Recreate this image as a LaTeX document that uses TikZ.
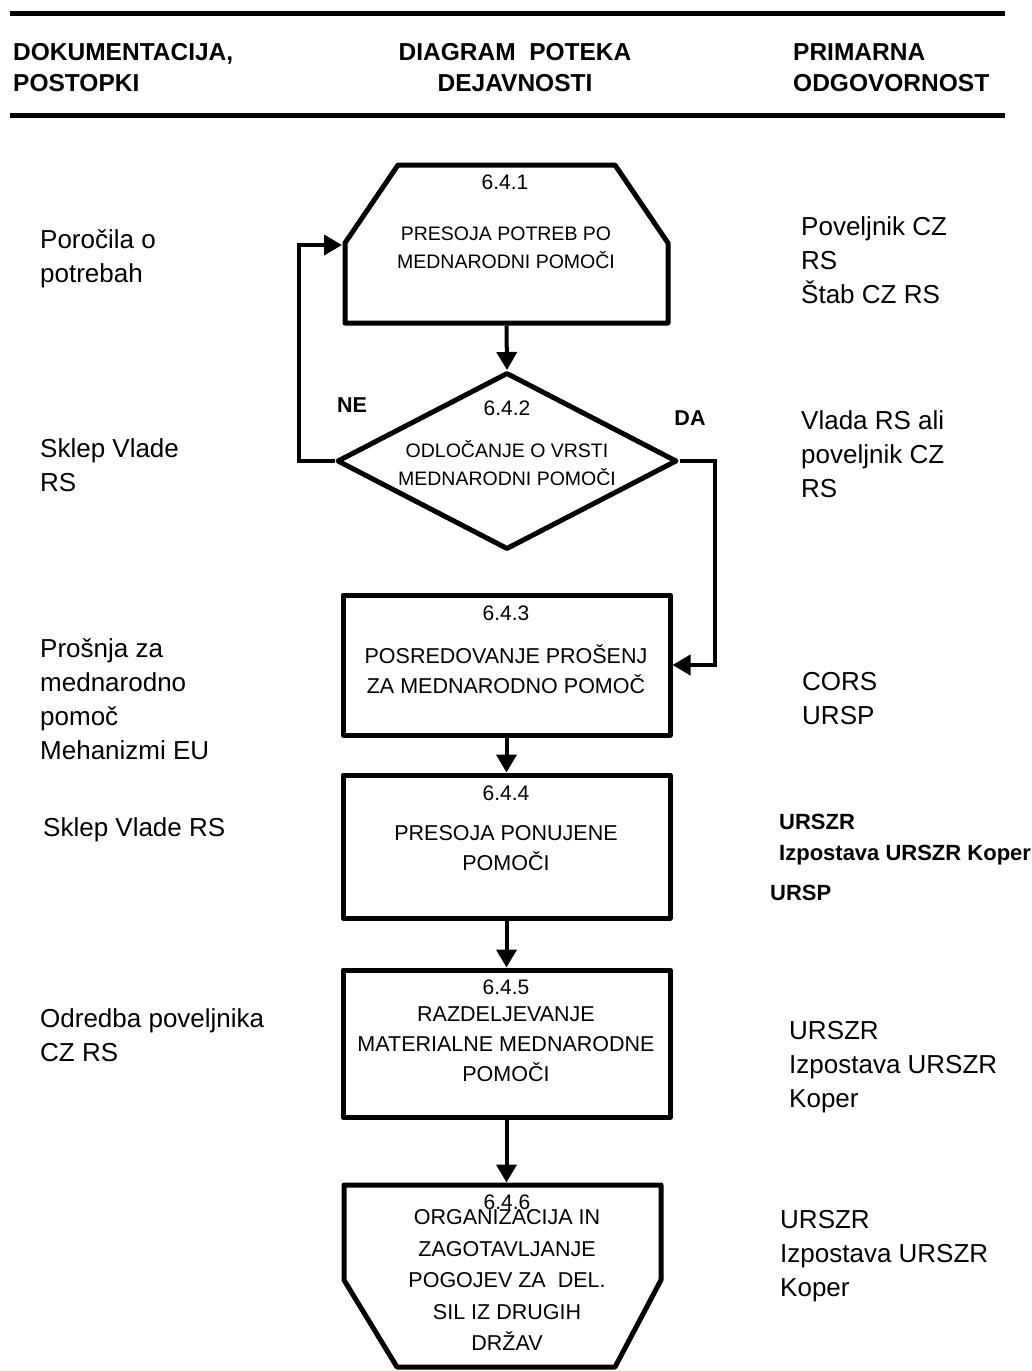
\documentclass[tikz,border=0pt]{standalone}
\usepackage{fontspec}
\setmainfont{Liberation Sans}
\usetikzlibrary{shapes.geometric, arrows.meta}
\tikzstyle{process} = [rectangle, minimum width=327pt, line width=5pt, line join=round, draw=black, inner sep=0pt]
\tikzstyle{decision} = [diamond, minimum width=340pt, minimum height=177pt, line width=5pt, line join=round, draw=black, inner sep=0pt]
\tikzstyle{outline} = [line width=5pt, line join=round, draw=black]
\tikzstyle{rule} = [line width=5pt]
\tikzstyle{arrow} = [line width=4pt, -{Triangle[length=18pt, width=20pt]}]
\tikzstyle{head} = [anchor=north west, align=left, inner sep=0pt, font=\fontsize{24.5}{31}\selectfont\bfseries]
\tikzstyle{doc} = [anchor=north west, align=left, inner sep=0pt, font=\fontsize{26}{34}\selectfont]
\tikzstyle{respb} = [anchor=north west, align=left, inner sep=0pt, font=\fontsize{22}{31}\selectfont\bfseries]
\tikzstyle{num} = [inner sep=0pt, font=\fontsize{21}{25}\selectfont]
\tikzstyle{big} = [align=center, inner sep=0pt, font=\fontsize{21.5}{30}\selectfont]
\tikzstyle{small} = [align=center, inner sep=0pt, font=\fontsize{19.5}{28}\selectfont]
\tikzstyle{yesno} = [inner sep=0pt, font=\fontsize{21.5}{25}\selectfont\bfseries]

\begin{document}
\begin{tikzpicture}[x=1pt, y=-1pt]
	\useasboundingbox (0,0) rectangle (1032,1371);
	% glava tabele
	\draw [rule] (10,13) -- (1005,13);
	\draw [rule] (10,115) -- (1005,115);
	\node (H1) [head] at (13,43) {DOKUMENTACIJA,\\POSTOPKI};
	\node (H2) [head, anchor=north, align=center] at (515,43) {DIAGRAM~ POTEKA\\DEJAVNOSTI};
	\node (H3) [head] at (793,43) {PRIMARNA\\ODGOVORNOST};
	% diagram poteka
	\draw [outline] (345,323) -- (345,243) -- (398,165) -- (615,165) -- (668,243) -- (668,323) -- cycle;
	\coordinate (b1s) at (506.5,325.5);
	\coordinate (b1w) at (342,245);
	\node (N1) [num] at (505,182) {6.4.1};
	\node (T1) [small] at (506,247.5) {PRESOJA POTREB PO\\MEDNARODNI POMOČI};
	\node (DIA) [decision] at (507,461) {};
	\node (N2) [num] at (507,408) {6.4.2};
	\node (T2) [small] at (507,463.5) {ODLOČANJE O VRSTI\\MEDNARODNI POMOČI};
	\node (NE) [yesno] at (352,405) {NE};
	\node (DA) [yesno] at (690,418) {DA};
	\node (B3) [process, minimum height=140pt] at (506.5,665) {};
	\node (N3) [num] at (506,613) {6.4.3};
	\node (T3) [big] at (506,669) {POSREDOVANJE PROŠENJ\\ZA MEDNARODNO POMOČ};
	\node (B4) [process, minimum height=143pt] at (506.5,846.5) {};
	\node (N4) [num] at (506,793) {6.4.4};
	\node (T4) [big] at (506,848.5) {PRESOJA PONUJENE\\POMOČI};
	\node (B5) [process, minimum height=147pt] at (506.5,1043.5) {};
	\node (N5) [num] at (506,987) {6.4.5};
	\node (T5) [big] at (506,1044) {RAZDELJEVANJE\\MATERIALNE MEDNARODNE\\POMOČI};
	\draw [outline] (344,1185) -- (661,1185) -- (661,1280) -- (615,1367) -- (397,1367) -- (344,1280) -- cycle;
	\coordinate (b6n) at (506.5,1182.5);
	\node (N6) [num] at (507,1202) {6.4.6};
	\node (T6) [big, font=\fontsize{21.5}{31.5}\selectfont] at (507,1280) {ORGANIZACIJA IN\\ZAGOTAVLJANJE\\POGOJEV ZA~ DEL.\\SIL IZ DRUGIH\\DRŽAV};
	\draw [arrow] (b1s) -- (DIA.north);
	\draw [arrow] (DIA.west) -- ++(-36,0) |- (b1w);
	\draw [arrow] (DIA.east) -- ++(35,0) |- (B3.east);
	\draw [arrow] (B3) -- (B4);
	\draw [arrow] (B4) -- (B5);
	\draw [arrow] (B5.south) -- (b6n);
	% dokumentacija
	\node (L1) [doc] at (40,229) {Poročila o\\potrebah};
	\node (L2) [doc] at (40,438) {Sklep Vlade\\RS};
	\node (L3) [doc] at (40,638) {Prošnja za\\mednarodno\\pomoč\\Mehanizmi EU};
	\node (L4) [doc] at (43,817) {Sklep Vlade RS};
	\node (L5) [doc] at (40,1008) {Odredba poveljnika\\CZ RS};
	% odgovornost
	\node (R1) [doc] at (801,216) {Poveljnik CZ\\RS\\Štab CZ RS};
	\node (R2) [doc] at (801,410) {Vlada RS ali\\poveljnik CZ\\RS};
	\node (R3) [doc] at (802,672) {CORS\\URSP};
	\node (R4) [respb] at (779,814) {URSZR\\Izpostava URSZR Koper};
	\node (R5) [respb] at (770,885) {URSP};
	\node (R6) [doc] at (789,1021) {URSZR\\Izpostava URSZR\\Koper};
	\node (R7) [doc] at (780,1210) {URSZR\\Izpostava URSZR\\Koper};
\end{tikzpicture}
\end{document}
